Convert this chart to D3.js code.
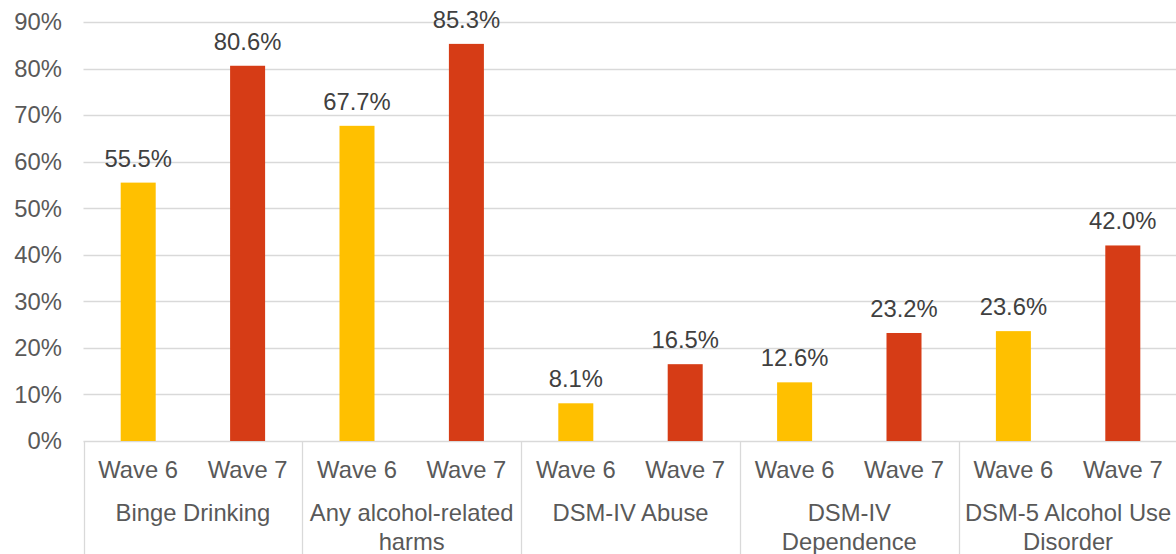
<!DOCTYPE html>
<html>
<head>
<meta charset="utf-8">
<script src="https://cdn.jsdelivr.net/npm/d3@7"></script>
<style>
  html, body { margin: 0; padding: 0; background: #fff; }
  svg { display: block; font-family: "Liberation Sans", Arial, sans-serif; }
</style>
</head>
<body>
<svg id="chart" width="1176" height="554"></svg>
<script>
const categories = ["Binge Drinking", "Any alcohol-related harms", "DSM-IV Abuse", "DSM-IV Dependence", "DSM-5 Alcohol Use Disorder"];
const seriesNames = ["Wave 6", "Wave 7"];
const wave6 = [55.5, 67.7, 8.1, 12.6, 23.6];
const wave7 = [80.6, 85.3, 16.5, 23.2, 42.0];
const yTicks = [0, 10, 20, 30, 40, 50, 60, 70, 80, 90];
const colors = ["#FFC000", "#D63C16"];

const svg = d3.select("#chart");
const W = 1176, H = 554;
const m = { left: 83.5, right: -1.5, top: 22, bottom: 113 };

const x0 = d3.scaleBand().domain(categories).range([m.left, W - m.right]).paddingInner(0).paddingOuter(0);
const x1 = d3.scaleBand().domain(seriesNames).range([0, x0.bandwidth()]).paddingInner(0.68).paddingOuter(0.34);
const y = d3.scaleLinear().domain([0, 90]).range([H - m.bottom, m.top]);

// gridlines
svg.append("g").selectAll("line").data(yTicks).join("line")
  .attr("x1", m.left).attr("x2", W)
  .attr("y1", d => Math.round(y(d)) + 0.5).attr("y2", d => Math.round(y(d)) + 0.5)
  .attr("stroke", "#d9d9d9").attr("stroke-width", 1.3);

// y labels
svg.append("g").selectAll("text").data(yTicks).join("text")
  .attr("x", 62).attr("y", d => y(d))
  .attr("dy", "0.35em")
  .attr("text-anchor", "end")
  .attr("font-size", "23.8px").attr("fill", "#595959")
  .text(d => d + "%");

// bars
const data = categories.map((c, i) => ({ cat: c, vals: [wave6[i], wave7[i]] }));
const groups = svg.append("g").selectAll("g").data(data).join("g")
  .attr("transform", d => `translate(${x0(d.cat)},0)`);

groups.selectAll("rect").data(d => d.vals.map((v, j) => ({ s: seriesNames[j], v, j }))).join("rect")
  .attr("x", d => x1(d.s)).attr("width", x1.bandwidth())
  .attr("y", d => y(d.v)).attr("height", d => y(0) - y(d.v))
  .attr("fill", d => colors[d.j]);

groups.selectAll("text.val").data(d => d.vals.map((v, j) => ({ s: seriesNames[j], v, j }))).join("text")
  .attr("class", "val")
  .attr("x", d => x1(d.s) + x1.bandwidth() / 2)
  .attr("y", d => y(d.v) - 16)
  .attr("text-anchor", "middle")
  .attr("font-size", "23.8px").attr("fill", "#404040")
  .text(d => d.v.toFixed(1) + "%");

// separators
const bounds = categories.map(c => x0(c)).concat([x0.range()[1]]);
svg.append("g").selectAll("line").data(bounds).join("line")
  .attr("x1", d => Math.round(d) + 0.5).attr("x2", d => Math.round(d) + 0.5)
  .attr("y1", y(0)).attr("y2", H)
  .attr("stroke", "#d9d9d9").attr("stroke-width", 1.3);

// wave labels
groups.selectAll("text.wave").data(seriesNames).join("text")
  .attr("class", "wave")
  .attr("x", d => x1(d) + x1.bandwidth() / 2)
  .attr("y", 470).attr("dy", "0.35em")
  .attr("text-anchor", "middle")
  .attr("font-size", "23.8px").attr("fill", "#595959")
  .text(d => d);

// category labels with wrapping
groups.append("text")
  .attr("class", "cat")
  .attr("x", x0.bandwidth() / 2)
  .attr("y", 513)
  .attr("text-anchor", "middle")
  .attr("font-size", "23.8px").attr("fill", "#595959")
  .each(function(d) {
    const t = d3.select(this);
    const words = d.cat.split(" ");
    let line = [], lines = [];
    const tmp = t.append("tspan");
    words.forEach(w => {
      const test = line.concat([w]).join(" ");
      tmp.text(test);
      if (tmp.node().getComputedTextLength() > 212 && line.length) {
        lines.push(line.join(" "));
        line = [w];
      } else line.push(w);
    });
    lines.push(line.join(" "));
    tmp.remove();
    lines.forEach((l, i) => {
      t.append("tspan").attr("x", x0.bandwidth() / 2).attr("dy", i === 0 ? "0.35em" : "29px").text(l);
    });
  });
</script>
</body>
</html>
